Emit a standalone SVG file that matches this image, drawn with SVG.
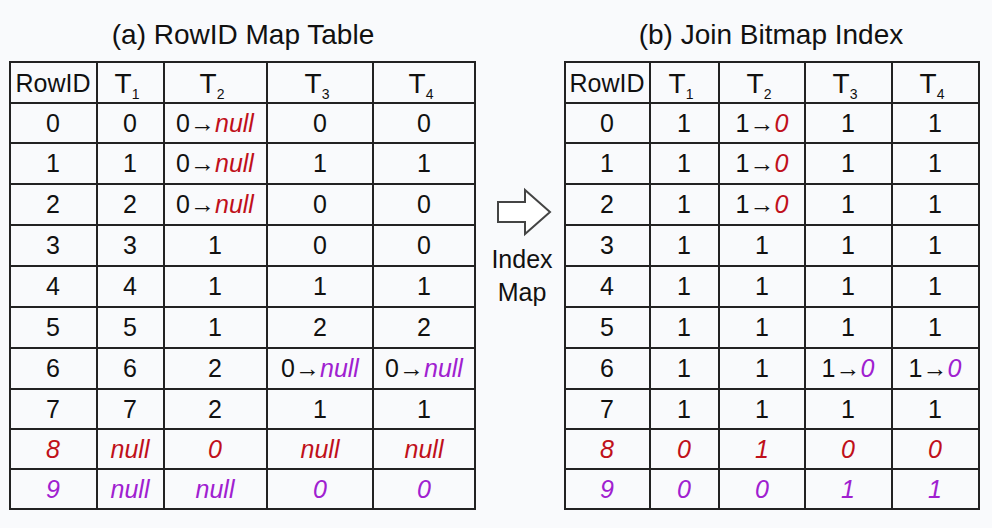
<svg xmlns="http://www.w3.org/2000/svg" width="992" height="528" viewBox="0 0 992 528">
<style>
text{font-family:"Liberation Sans",Arial,sans-serif;font-size:25px;text-anchor:middle;fill:#111}
.t{font-size:28px}
.h{font-size:28px}
.r{fill:#c0101a;font-style:italic}
.p{fill:#a020d0;font-style:italic}
.s{font-size:14px}
.g{stroke:#222;stroke-width:2;fill:none}
</style>
<rect width="992" height="528" fill="#f9fafc"/>
<text class="t" x="243" y="44">(a) RowID Map Table</text>
<text class="t" x="771" y="44">(b) Join Bitmap Index</text>
<g id="tableA">
<rect class="g" x="10" y="62" width="465" height="447" fill="#fff"/>
<path class="g" d="M97 62V509M164 62V509M267 62V509M373 62V509M10 103H475M10 143H475M10 184H475M10 225H475M10 266H475M10 307H475M10 348H475M10 389H475M10 429H475M10 469H475"/>
<text x="53" y="92">RowID</text>
<text class="h" x="127" y="93">T<tspan class="s" dy="6">1</tspan></text>
<text class="h" x="212" y="93">T<tspan class="s" dy="6">2</tspan></text>
<text class="h" x="317" y="93">T<tspan class="s" dy="6">3</tspan></text>
<text class="h" x="421" y="93">T<tspan class="s" dy="6">4</tspan></text>
<g>
<text x="53" y="132">0</text><text x="130" y="132">0</text><text x="215" y="132">0→<tspan class="r">null</tspan></text><text x="320" y="132">0</text><text x="424" y="132">0</text>
<text x="53" y="172">1</text><text x="130" y="172">1</text><text x="215" y="172">0→<tspan class="r">null</tspan></text><text x="320" y="172">1</text><text x="424" y="172">1</text>
<text x="53" y="213">2</text><text x="130" y="213">2</text><text x="215" y="213">0→<tspan class="r">null</tspan></text><text x="320" y="213">0</text><text x="424" y="213">0</text>
<text x="53" y="254">3</text><text x="130" y="254">3</text><text x="215" y="254">1</text><text x="320" y="254">0</text><text x="424" y="254">0</text>
<text x="53" y="295">4</text><text x="130" y="295">4</text><text x="215" y="295">1</text><text x="320" y="295">1</text><text x="424" y="295">1</text>
<text x="53" y="336">5</text><text x="130" y="336">5</text><text x="215" y="336">1</text><text x="320" y="336">2</text><text x="424" y="336">2</text>
<text x="53" y="377">6</text><text x="130" y="377">6</text><text x="215" y="377">2</text><text x="320" y="377">0→<tspan class="p">null</tspan></text><text x="424" y="377">0→<tspan class="p">null</tspan></text>
<text x="53" y="418">7</text><text x="130" y="418">7</text><text x="215" y="418">2</text><text x="320" y="418">1</text><text x="424" y="418">1</text>
<text class="r" x="53" y="458">8</text><text class="r" x="130" y="458">null</text><text class="r" x="215" y="458">0</text><text class="r" x="320" y="458">null</text><text class="r" x="424" y="458">null</text>
<text class="p" x="53" y="498">9</text><text class="p" x="130" y="498">null</text><text class="p" x="215" y="498">null</text><text class="p" x="320" y="498">0</text><text class="p" x="424" y="498">0</text>
</g>
</g>
<g id="arrow">
<path d="M498 202H525V190L550 212L525 234V222H498Z" fill="#fff" stroke="#444" stroke-width="2"/>
<text x="522" y="268">Index</text>
<text x="522" y="301">Map</text>
</g>
<g id="tableB">
<rect class="g" x="565" y="62" width="414" height="447" fill="#fff"/>
<path class="g" d="M650 62V509M719 62V509M805 62V509M892 62V509M565 103H979M565 143H979M565 184H979M565 225H979M565 266H979M565 307H979M565 348H979M565 389H979M565 429H979M565 469H979"/>
<text x="607" y="92">RowID</text>
<text class="h" x="681" y="93">T<tspan class="s" dy="6">1</tspan></text>
<text class="h" x="759" y="93">T<tspan class="s" dy="6">2</tspan></text>
<text class="h" x="845" y="93">T<tspan class="s" dy="6">3</tspan></text>
<text class="h" x="932" y="93">T<tspan class="s" dy="6">4</tspan></text>
<text x="607" y="132">0</text><text x="684" y="132">1</text><text x="762" y="132">1→<tspan class="r">0</tspan></text><text x="848" y="132">1</text><text x="935" y="132">1</text>
<text x="607" y="172">1</text><text x="684" y="172">1</text><text x="762" y="172">1→<tspan class="r">0</tspan></text><text x="848" y="172">1</text><text x="935" y="172">1</text>
<text x="607" y="213">2</text><text x="684" y="213">1</text><text x="762" y="213">1→<tspan class="r">0</tspan></text><text x="848" y="213">1</text><text x="935" y="213">1</text>
<text x="607" y="254">3</text><text x="684" y="254">1</text><text x="762" y="254">1</text><text x="848" y="254">1</text><text x="935" y="254">1</text>
<text x="607" y="295">4</text><text x="684" y="295">1</text><text x="762" y="295">1</text><text x="848" y="295">1</text><text x="935" y="295">1</text>
<text x="607" y="336">5</text><text x="684" y="336">1</text><text x="762" y="336">1</text><text x="848" y="336">1</text><text x="935" y="336">1</text>
<text x="607" y="377">6</text><text x="684" y="377">1</text><text x="762" y="377">1</text><text x="848" y="377">1→<tspan class="p">0</tspan></text><text x="935" y="377">1→<tspan class="p">0</tspan></text>
<text x="607" y="418">7</text><text x="684" y="418">1</text><text x="762" y="418">1</text><text x="848" y="418">1</text><text x="935" y="418">1</text>
<text class="r" x="607" y="458">8</text><text class="r" x="684" y="458">0</text><text class="r" x="762" y="458">1</text><text class="r" x="848" y="458">0</text><text class="r" x="935" y="458">0</text>
<text class="p" x="607" y="498">9</text><text class="p" x="684" y="498">0</text><text class="p" x="762" y="498">0</text><text class="p" x="848" y="498">1</text><text class="p" x="935" y="498">1</text>
</g>
</svg>
